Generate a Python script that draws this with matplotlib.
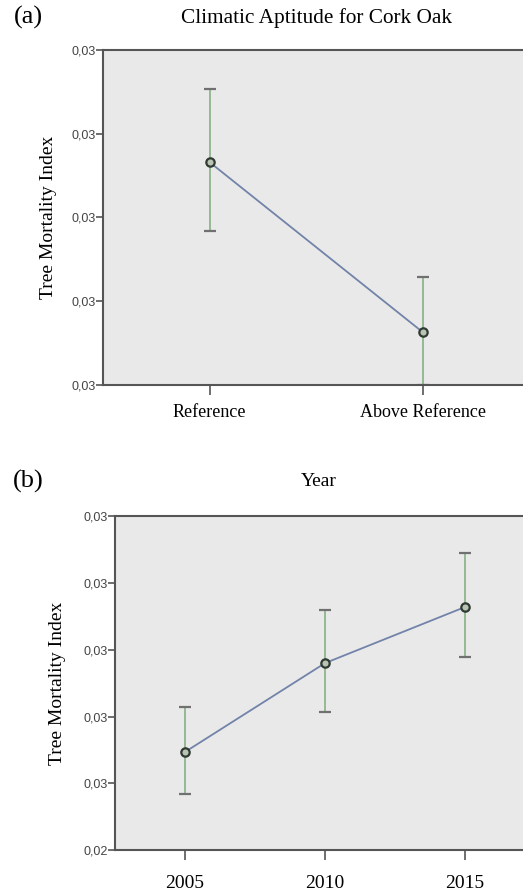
import matplotlib.pyplot as plt

# panel (a): climatic aptitude for cork oak
cats_a = ["Reference", "Above Reference"]
mean_a = [0.02866, 0.02663]
low_a = [0.02784, 0.02600]
high_a = [0.02953, 0.02729]
yticks_a = [0.026, 0.027, 0.028, 0.029, 0.030]
ylabels_a = ["0,03", "0,03", "0,03", "0,03", "0,03"]

# panel (b): year
cats_b = ["2005", "2010", "2015"]
mean_b = [0.02547, 0.02680, 0.02764]
low_b = [0.02484, 0.02607, 0.02689]
high_b = [0.02614, 0.02759, 0.02845]
yticks_b = [0.024, 0.025, 0.026, 0.027, 0.028, 0.029]
ylabels_b = ["0,02", "0,03", "0,03", "0,03", "0,03", "0,03"]

serif = "Liberation Serif"
sans = "Liberation Sans"
bg = "#e9e9e9"
spine_c = "#555555"
line_c = "#7283a9"
err_c = "#8fb58c"
cap_c = "#707070"


def panel(ax, cats, mean, low, high, yticks, ylabels, xpad, xsize):
    xs = list(range(len(cats)))
    ax.set_facecolor(bg)
    ax.vlines(xs, low, high, color=err_c, lw=1.3, zorder=2)
    ax.plot(xs, low, ls="none", marker="_", ms=9, mew=1.6, color=cap_c, zorder=2.2)
    ax.plot(xs, high, ls="none", marker="_", ms=9, mew=1.6, color=cap_c, zorder=2.2)
    ax.plot(xs, mean, color=line_c, lw=1.3, zorder=4)
    ax.plot(xs, mean, ls="none", marker="o", ms=6, mew=1.6,
            mfc="#b9c4b4", mec="#2f3a30", zorder=5)
    ax.set_xlim(-0.5, len(cats) - 0.5)
    ax.set_ylim(yticks[0], yticks[-1])
    ax.set_yticks(yticks)
    ax.set_yticklabels(ylabels, fontfamily=sans, fontsize=9, color="#444444")
    ax.set_xticks(xs)
    ax.set_xticklabels(cats, fontfamily=serif, fontsize=xsize)
    ax.tick_params(axis="y", length=5, width=1.2, color=spine_c, pad=0)
    ax.tick_params(axis="x", length=7, width=1.2, color=spine_c, pad=xpad)
    for s in ax.spines.values():
        s.set_color(spine_c)
        s.set_linewidth(1.5)
        s.set_zorder(3)
    ax.set_ylabel("Tree Mortality Index", fontfamily=serif, fontsize=14)


fig = plt.figure(figsize=(5.23, 8.93), dpi=100)

ax1 = fig.add_axes([0.197, 0.569, 0.815, 0.375])
panel(ax1, cats_a, mean_a, low_a, high_a, yticks_a, ylabels_a, 7, 13)
ax1.yaxis.set_label_coords(-0.108, 0.5)

ax2 = fig.add_axes([0.220, 0.048, 0.803, 0.374])
panel(ax2, cats_b, mean_b, low_b, high_b, yticks_b, ylabels_b, 11, 14)
ax2.yaxis.set_label_coords(-0.117, 0.5)

fig.text(0.054, 0.980, "(a)", fontfamily=serif, fontsize=19, ha="center", va="center")
fig.text(0.605, 0.980, "Climatic Aptitude for Cork Oak", fontfamily=serif,
         fontsize=15.3, ha="center", va="center")
fig.text(0.054, 0.461, "(b)", fontfamily=serif, fontsize=19, ha="center", va="center")
fig.text(0.610, 0.461, "Year", fontfamily=serif, fontsize=14, ha="center", va="center")

fig.savefig("out.png", dpi=100)
